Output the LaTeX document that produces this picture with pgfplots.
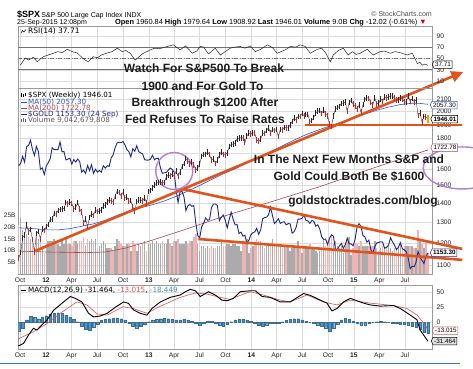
\documentclass[border=0pt]{standalone}
\usepackage{fontspec}
\setmainfont{Liberation Sans}
\newfontfamily\dejavu{DejaVu Sans}
\usepackage{pgfplots}
\pgfplotsset{compat=1.18}
\usepackage{pgfplotstable}
\usetikzlibrary{shapes.symbols,arrows.meta}

\definecolor{gridc}{HTML}{DCDCDC}
\definecolor{framec}{HTML}{9A9A9A}
\definecolor{candleup}{HTML}{262626}
\definecolor{candledn}{HTML}{D02020}
\definecolor{volgray}{HTML}{ABABAB}
\definecolor{volpink}{HTML}{F0B4B4}
\definecolor{ma50c}{HTML}{2F55C8}
\definecolor{ma200c}{HTML}{B0454A}
\definecolor{goldc}{HTML}{1C2A8C}
\definecolor{trendc}{HTML}{E2531C}
\definecolor{circc}{HTML}{B57EDC}
\definecolor{histc}{HTML}{4F93C4}
\definecolor{sigc}{HTML}{D9534F}
\definecolor{txtc}{HTML}{1E1E1E}
\definecolor{linkc}{HTML}{3A6FD8}

% S&P 500 weekly: week index (0 = week of 6 Jan 2012), close, down-week flag, volume (billions)
\pgfplotstableread{
w c d v
-14 1131 1 21
-13 1155 0 24
-12 1224 0 19
-11 1238 0 18
-10 1285 0 17
-9 1253 1 16
-8 1263 0 15
-7 1216 1 15
-6 1159 1 11
-5 1244 0 17
-4 1255 0 15
-3 1219 1 16
-2 1265 0 12
-1 1258 1 9
0 1278 0 13
1 1289 0 14
2 1315 0 14
3 1316 0 14
4 1345 0 15
5 1342 1 13
6 1361 0 13
7 1366 0 12
8 1370 0 14
9 1371 0 13
10 1404 0 15
11 1397 1 13
12 1408 0 13
13 1398 1 12
14 1370 1 14
15 1378 0 14
16 1403 0 13
17 1369 1 14
18 1353 1 14
19 1295 1 16
20 1318 0 12
21 1278 1 15
22 1325 0 14
23 1343 0 15
24 1335 1 14
25 1362 0 15
26 1355 1 10
27 1357 0 12
28 1363 0 13
29 1386 0 14
30 1391 0 13
31 1406 0 11
32 1418 0 11
33 1411 1 11
34 1407 1 10
35 1438 0 12
36 1466 0 15
37 1460 1 14
38 1441 1 13
39 1461 0 12
40 1428 1 12
41 1433 0 13
42 1411 1 13
43 1414 0 10
44 1380 1 14
45 1359 1 13
46 1409 0 10
47 1416 0 13
48 1418 0 12
49 1413 1 13
50 1430 0 14
51 1402 1 10
52 1466 0 13
53 1472 0 13
54 1486 0 14
55 1503 0 13
56 1513 0 14
57 1518 0 13
58 1520 0 13
59 1516 1 14
60 1518 0 13
61 1551 0 13
62 1561 0 15
63 1557 1 13
64 1569 0 12
65 1553 1 14
66 1588 0 14
67 1555 1 15
68 1582 0 13
69 1614 0 13
70 1633 0 13
71 1667 0 14
72 1650 1 13
73 1631 1 14
74 1643 0 14
75 1626 1 16
76 1593 1 17
77 1606 0 13
78 1632 0 10
79 1680 0 12
80 1692 0 12
81 1692 0 11
82 1710 0 12
83 1691 1 11
84 1656 1 12
85 1664 0 11
86 1633 1 11
87 1655 0 12
88 1688 0 12
89 1710 0 15
90 1692 1 12
91 1690 1 12
92 1703 0 13
93 1745 0 13
94 1760 0 12
95 1762 0 13
96 1771 0 13
97 1798 0 12
98 1804 0 12
99 1806 0 10
100 1805 1 13
101 1775 1 13
102 1818 0 15
103 1841 0 9
104 1831 1 11
105 1842 0 12
106 1838 1 13
107 1790 1 15
108 1783 1 14
109 1797 0 14
110 1838 0 12
111 1836 1 11
112 1859 0 12
113 1878 0 12
114 1841 1 13
115 1866 0 15
116 1858 1 13
117 1865 0 13
118 1815 1 13
119 1864 0 12
120 1863 1 11
121 1881 0 12
122 1878 1 12
123 1878 0 12
124 1900 0 10
125 1924 0 11
126 1949 0 11
127 1936 1 11
128 1963 0 14
129 1961 1 11
130 1985 0 9
131 1968 1 11
132 1978 0 11
133 1978 0 11
134 1925 1 13
135 1931 0 11
136 1955 0 11
137 1988 0 10
138 2003 0 9
139 2007 0 10
140 1985 1 11
141 2011 0 15
142 1982 1 12
143 1968 1 13
144 1906 1 16
145 1887 1 17
146 1965 0 13
147 2018 0 14
148 2032 0 12
149 2039 0 11
150 2064 0 12
151 2068 0 9
152 2075 0 12
153 2002 1 14
154 2071 0 16
155 2089 0 8
156 2058 1 11
157 2045 1 13
158 2019 1 13
159 2051 0 12
160 1995 1 14
161 2055 0 12
162 2097 0 12
163 2110 0 12
164 2105 1 12
165 2071 1 12
166 2053 1 12
167 2108 0 14
168 2061 1 11
169 2067 0 10
170 2102 0 11
171 2081 1 12
172 2117 0 11
173 2108 1 12
174 2116 0 12
175 2123 0 11
176 2126 0 10
177 2107 1 11
178 2092 1 11
179 2094 0 12
180 2110 0 13
181 2102 1 11
182 2077 1 12
183 2077 0 12
184 2127 0 12
185 2080 1 12
186 2104 0 12
187 2078 1 11
188 2092 0 11
189 1971 1 19
190 1989 0 15
191 1921 1 13
192 1961 0 11
193 1958 1 14
194 1946 1 9
}\spx

\pgfplotstableread{
w g
-14 1620
-13 1636
-12 1680
-11 1642
-10 1745
-9 1754
-8 1788
-7 1725
-6 1686
-5 1746
-4 1712
-3 1598
-2 1606
-1 1565
0 1617
1 1639
2 1665
3 1737
4 1725
5 1725
6 1725
7 1777
8 1710
9 1712
10 1657
11 1662
12 1668
13 1630
14 1659
15 1643
16 1663
17 1645
18 1580
19 1592
20 1572
21 1622
22 1590
23 1626
24 1572
25 1598
26 1580
27 1590
28 1580
29 1620
30 1605
31 1620
32 1616
33 1670
34 1690
35 1737
36 1770
37 1775
38 1772
39 1780
40 1757
41 1724
42 1711
43 1676
44 1731
45 1714
46 1751
47 1711
48 1703
49 1696
50 1658
51 1656
52 1656
53 1662
54 1687
55 1658
56 1667
57 1667
58 1609
59 1573
60 1576
61 1577
62 1592
63 1606
64 1596
65 1581
66 1476
67 1405
68 1462
69 1467
70 1435
71 1360
72 1386
73 1393
74 1383
75 1387
76 1297
77 1234
78 1223
79 1277
80 1295
81 1322
82 1310
83 1313
84 1376
85 1396
86 1396
87 1387
88 1308
89 1326
90 1337
91 1310
92 1272
93 1315
94 1352
95 1315
96 1287
97 1288
98 1244
99 1251
100 1232
101 1235
102 1197
103 1212
104 1238
105 1248
106 1252
107 1270
108 1240
109 1262
110 1318
111 1324
112 1326
113 1338
114 1379
115 1334
116 1294
117 1304
118 1318
119 1294
120 1301
121 1302
122 1287
123 1293
124 1292
125 1246
126 1253
127 1274
128 1316
129 1316
130 1320
131 1337
132 1310
133 1307
134 1294
135 1309
136 1305
137 1280
138 1287
139 1268
140 1229
141 1216
142 1218
143 1192
144 1222
145 1238
146 1231
147 1171
148 1169
149 1185
150 1197
151 1175
152 1191
153 1222
154 1195
155 1195
156 1186
157 1216
158 1277
159 1293
160 1279
161 1234
162 1228
163 1203
164 1213
165 1168
166 1153
167 1182
168 1199
169 1202
170 1205
171 1203
172 1175
173 1179
174 1189
175 1224
176 1205
177 1190
178 1169
179 1179
180 1201
181 1173
182 1168
183 1159
184 1132
185 1085
186 1095
187 1094
188 1113
189 1160
190 1134
191 1121
192 1107
193 1138
194 1153.3
}\gold

\pgfplotstableread{
w m
-14 1272
-6 1268
0 1262
6 1262
12 1268
18 1280
24 1292
30 1310
36 1335
42 1358
48 1375
54 1392
60 1412
66 1438
72 1468
78 1500
84 1535
90 1570
96 1600
102 1638
108 1675
114 1712
120 1750
126 1790
132 1828
138 1860
144 1890
150 1920
156 1950
162 1980
168 2010
174 2035
180 2055
186 2066
190 2064
194 2057.3
}\maf

\pgfplotstableread{
w m
-14 1162
0 1158
20 1155
30 1158
40 1175
51 1204
70 1262
93 1340
115 1410
139 1493
165 1600
194 1722.78
}\mat

\pgfplotstableread{
w r
-13.2 38
-12 44
-10.7 50.7
-9 47
-6.6 52
-4.6 44
-3 49
-1.5 53
1 56
3.6 59
6 62
8 60
10.7 66
13.2 62
15.8 59.5
18 52
19.8 47
21.4 44
23.9 53
26 51
28 56
31 59.5
33.5 62
36.1 68
38.6 62
40.5 64
42.7 59
45.2 47
47.5 54
49.3 59
52.9 65
55 68
57.5 67
59.5 69
61.5 71
64.6 74
66.5 69
68.1 65
70.7 72
72.5 66
74.2 59
76.5 63
78.3 71
80 70
82.4 58
84 62
85.9 68
88.5 56
91 62
93.5 68
96 70
98.6 71
101 68
103.7 72
106.3 62
109 66
112.4 74
115 69
117.4 59
120 63
122 66
124 71
127 70
129.1 74
131.7 71
134.2 59
137.8 66
140 68
142 60
144.4 44
145.9 56
148.5 64
151 68
153.5 56
155.6 62
157.5 57
159.6 59
161.5 63
163.2 66
166.2 56
169.8 62
172 63
174.9 59
177.5 62
180 60
183.5 56
186.1 59
188.6 41
190 43
191.2 38
192.5 40
194 37.71
}\rsi

\pgfplotstableread{
w m
-14.2 -39
-13.2 -38
-11.5 -35
-9.0 -21
-6.5 -10
-4.7 -13
-3.1 -7
0.4 4
3.7 20
8.8 34
12.2 43
14.7 40
18.1 34
21.5 15
24.0 9
27.5 10.5
30.9 15
35.1 25
39.3 34
41.8 31.6
44.4 20.5
47.8 15
51.2 12
53.7 23
58.0 34
63.0 41.6
68.1 45.5
70.7 51
73.2 55
75.8 52.6
78.3 43
82.5 51
85.9 45.5
89.3 37
91.9 36
95.2 40
98.6 51
103.7 52.6
106.3 52.6
109.7 43
113.9 41.6
119.0 34
124.0 34
130.8 48
134.2 45
139.3 37
142.7 32
145.2 19
147.8 23
151.1 34
154.6 40
157.1 37
161.3 32
164.7 29
169.8 27
176.6 28
180.0 23
185.1 12
188.5 4
190.1 -13
191.8 -21
194.0 -31.46
}\macd

\pgfplotstableread{
w s
-14.2 -28
-13.2 -26
-6.6 -16
0.4 -2
7.1 15
15.6 34
20.7 29
25.8 14
30.9 12
39.1 26
44.2 23
51.2 15
58.0 27
68.1 41.6
75.8 49
81.7 47
88.5 41.6
93.5 38
98.6 45
103.7 51
110.3 45.5
119.0 37
124.0 34
132.5 45.5
140.8 34
147.8 29
154.6 37
164.7 32
176.4 28
183.4 23
188.5 12
192.7 -4.6
194.0 -13.0
}\signal

\pgfplotstableread{
w h
-14 -14
-12 -10
-10 4
-8 10
-6 8
-4 6
-2 9
0 11
2 13
4 15
6 16
8 15
10 12
12 9
14 5
16 1
18 -7
20 -12
22 -13
24 -8
26 -3
28 3
30 5
32 6
34 7
36 7
38 6
40 4
42 -2
44 -7
46 -9
48 -6
50 -3
52 1
54 4
56 5
58 6
60 7
62 6
64 5
66 4
68 4
70 5
72 4
74 2
76 -2
78 -5
80 -2
82 2
84 2
86 -1
88 -5
90 -6
92 -3
94 1
96 4
98 5
100 5
102 4
104 2
106 -1
108 -5
110 -6
112 -4
114 -2
116 -1
118 -1
120 1
122 3
124 5
126 6
128 6
130 4
132 2
134 0
136 -2
138 -4
140 -6
142 -9
144 -15
146 -10
148 -3
150 4
152 7
154 5
156 2
158 -2
160 -4
162 -4
164 -2
166 0
168 1
170 2
172 1
174 0
176 -1
178 -2
180 -3
182 -3
184 -4
186 -6
188 -8
190 -12
192 -16
194 -18.4
}\hist

\pgfplotsset{
  basex/.style={scale only axis, width=414pt, xmin=-14.37, xmax=196.1, anchor=south west},
  framed/.style={basex,
    axis line style={draw=framec, line width=0.5pt},
    major tick length=0pt,
    tick label style={font=\fontsize{6.7}{7}\selectfont, text=black!85},
    /pgf/number format/assume math mode=true,
    xtick={-13.29,-0.14,12.86,25.86,39,52.14,65,78,91.14,104.29,117.14,130.14,143.29,156.43,169.29,182.29},
    xticklabels={Oct,\textbf{12},Apr,Jul,Oct,\textbf{13},Apr,Jul,Oct,\textbf{14},Apr,Jul,Oct,\textbf{15},Apr,Jul},
    xmajorgrids, major grid style={draw=gridc, line width=0.4pt},
    yticklabel pos=right,
    yticklabel style={xshift=1pt}},
}
\tikzset{
  vbox/.style={signal, signal to=west, signal pointer angle=130, draw=#1, line width=0.5pt,
    fill=white, inner xsep=1.2pt, inner ysep=0.7pt, font=\fontsize{6.3}{6.5}\selectfont,
    anchor=west, minimum height=7.5pt},
}

\begin{document}
\begin{tikzpicture}[font=\fontsize{7}{8}\selectfont]
\useasboundingbox (0pt,0pt) rectangle (473pt,368pt);
\fill[white] (0pt,0pt) rectangle (473pt,368pt);

% ---------- main panel: frame, grid, price ticks ----------
\begin{axis}[ymode=log, framed, ymin=1063, ymax=2192, at={(18pt,94pt)}, height=186pt,
  ytick={1100,1200,1300,1400,1500,1600,1700,1800,1900,2000,2100},
  yticklabels={1100,1200,1300,1400,1500,1600,{},1800,1900,2000,2100},
  ymajorgrids]
\addplot[draw=none] coordinates {(0,1500)};
\end{axis}

% ---------- volume ----------
\begin{axis}[basex, at={(18pt,94pt)}, height=186pt, ymin=0, ymax=79.7,
  axis line style={draw=none}, xtick=\empty, major tick length=0pt,
  ytick={5,10,15,20,25}, yticklabels={5B,10B,15B,20B,25B}, yticklabel pos=left,
  yticklabel style={xshift=1pt},
  tick label style={font=\fontsize{6.5}{7}\selectfont, text=black!85},
  /pgf/number format/assume math mode=true]
\addplot[ycomb, volgray, line width=1.5pt, restrict expr to domain={\thisrow{d}}{-0.5:0.5}] table[x=w,y=v]{\spx};
\addplot[ycomb, volpink, line width=1.5pt, restrict expr to domain={\thisrow{d}}{0.5:1.5}] table[x=w,y=v]{\spx};
\end{axis}

% ---------- price data ----------
\begin{axis}[ymode=log, basex, ymin=1063, ymax=2192, at={(18pt,94pt)}, height=186pt, hide axis, clip=false]
\addplot[ma200c, line width=0.6pt] table[x=w,y=m]{\mat};
\addplot[ma50c, line width=0.6pt] table[x=w,y=m]{\maf};
\addplot[goldc, line width=0.9pt] table[x=w,y=g]{\gold};
\addplot[candleup, line width=0.35pt] table[x=w,y=c]{\spx};
\addplot[only marks, mark=|, mark size=2.8pt, mark options={candleup, line width=0.9pt},
  restrict expr to domain={\thisrow{d}}{-0.5:0.5}] table[x=w,y=c]{\spx};
\addplot[only marks, mark=|, mark size=2.8pt, mark options={candledn, line width=0.9pt},
  restrict expr to domain={\thisrow{d}}{0.5:1.5}] table[x=w,y=c]{\spx};
\addplot[only marks, mark=|, mark size=4pt, mark options={draw=orange!80!yellow, line width=1.4pt}] coordinates {(194,1946.01)};
% trend lines
\addplot[trendc, line width=2.6pt, -{Triangle[length=12pt,width=11pt]}] coordinates {(-5.59,1162.8) (212,2333)};
\addplot[trendc, line width=2.6pt] coordinates {(69.1,1480) (211.5,1172)};
\addplot[trendc, line width=2.6pt] coordinates {(77.3,1218) (211.5,1123)};
\addplot[trendc, line width=2.4pt] coordinates {(131.7,1899) (211.5,1899)};
\draw[circc, line width=1.4pt] (axis cs:65.07,1587) circle[radius=18.5pt];
\draw[circc, line width=1.4pt] (axis cs:211.5,1606) ellipse[x radius=39pt, y radius=21pt];
\end{axis}

% ---------- RSI ----------
\begin{axis}[framed, at={(18pt,280pt)}, height=62pt, ymin=-2.3, ymax=107.2,
  xticklabels={}, ytick={10,30,50,70,90}, ymajorgrids]
\addplot[black!55, line width=0.6pt] coordinates {(-14.37,70) (196.1,70)};
\addplot[black!55, line width=0.6pt] coordinates {(-14.37,30) (196.1,30)};
\addplot[black!55, line width=0.5pt, dash pattern=on 4pt off 1.5pt on 1pt off 1.5pt] coordinates {(-14.37,50) (196.1,50)};
\addplot[black!85, line width=0.5pt] table[x=w,y=r]{\rsi};
\end{axis}

% ---------- MACD ----------
\begin{axis}[framed, at={(18pt,19pt)}, height=64pt, ymin=-44.5, ymax=62.2,
  ytick={0,25,50}, ymajorgrids]
\addplot[ybar, bar width=2.5pt, fill=histc, draw=histc!75!black, line width=0.2pt] table[x=w,y=h]{\hist};
\addplot[sigc, line width=0.6pt] table[x=w,y=s]{\signal};
\addplot[black, line width=0.9pt] table[x=w,y=m]{\macd};
\end{axis}

% ---------- texts and labels ----------
\begin{scope}[x=1pt,y=-1pt,yshift=368pt]
\node[anchor=base west, inner sep=0pt] at (17,17) {{\fontsize{9}{9}\selectfont\bfseries \$SPX}\,{\fontsize{7}{7}\selectfont S\&P 500 Large Cap Index INDX}};
\node[anchor=base west, inner sep=0pt] at (17,24.5) {25-Sep-2015 12:08pm};
\node[anchor=base west, inner sep=0pt, font=\fontsize{7.4}{8}\selectfont] at (115,24.5) {\textbf{Open} 1960.84 \textbf{High} 1979.64 \textbf{Low} 1908.92 \textbf{Last} 1946.01 \textbf{Volume} 9.0B \textbf{Chg} -12.02 (-0.61\%) {\color{red!80!black}▼}};
\node[anchor=base east, inner sep=0pt, text=black!70] at (432,16) {© StockCharts.com};

\node[anchor=base west, inner sep=0pt, font=\dejavu\fontsize{7.5}{8}\selectfont] at (28,33.5) {RSI(14) 37.71};
\draw[black, line width=0.5pt] (21,33) -- (22.5,30.5) -- (24,32) -- (26,29.5);

\begin{scope}[font=\dejavu\fontsize{7.2}{7}\selectfont]
\node[anchor=base west, inner sep=0pt] at (28,97.5) {\$SPX (Weekly) 1946.01};
\node[anchor=base west, inner sep=0pt, text=ma50c] at (28,104) {MA(50) 2057.30};
\node[anchor=base west, inner sep=0pt, text=ma200c] at (28,110.3) {MA(200) 1722.78};
\node[anchor=base west, inner sep=0pt, text=goldc] at (28,116.5) {\$GOLD 1153.30 (24 Sep)};
\node[anchor=base west, inner sep=0pt, text=black!65] at (28,122.5) {Volume 9,042,679,808};
\node[anchor=base west, inner sep=0pt] at (28,292.8) {MACD(12,26,9) -31.464, {\color{sigc}-13.015}, {\color{histc}-18.449}};
\end{scope}
\draw[black, line width=0.6pt] (21.5,96.5) -- (21.5,93) (23.5,97) -- (23.5,93.5) (25.5,96) -- (25.5,92.5);
\draw[ma50c, line width=0.8pt] (21,102) -- (26.5,102);
\draw[ma200c, line width=0.8pt] (21,108.3) -- (26.5,108.3);
\draw[goldc, line width=0.8pt] (21,114.5) -- (26.5,114.5);
\draw[black!60, line width=0.9pt] (21.5,121.5) -- (21.5,118.5) (23.5,121.5) -- (23.5,117.5) (25.5,121.5) -- (25.5,119);
\draw[black, line width=0.9pt] (20.5,290.5) -- (26,290.5);

% value boxes
\node[vbox=black] at (432,64.5) {37.71};
\node[vbox=ma50c] at (430,105) {2057.30};
\node[vbox=black, font=\fontsize{6.3}{6.5}\selectfont\bfseries] at (430.5,119) {1946.01};
\node[vbox=ma200c] at (430.5,147.5) {1722.78};
\node[vbox=goldc, font=\fontsize{6.3}{6.5}\selectfont\bfseries] at (430,252.7) {1153.30};
\node[vbox=sigc] at (432,330.5) {-13.015};
\node[vbox=black, fill=black!12] at (431,341) {-31.464};

% headline annotations
\begin{scope}[font=\fontsize{12}{12}\selectfont\bfseries, text=txtc]
\node[anchor=base, inner sep=0pt] at (204,72.3) {Watch For S\&P500 To Break};
\node[anchor=base, inner sep=0pt] at (202.5,90.3) {1900 and For Gold To};
\node[anchor=base, inner sep=0pt] at (205,106.3) {Breakthrough \$1200 After};
\node[anchor=base, inner sep=0pt] at (205,123.3) {Fed Refuses To Raise Rates};
\node[anchor=base, inner sep=0pt] at (349,163.3) {In The Next Few Months S\&P and};
\node[anchor=base, inner sep=0pt] at (349,180.3) {Gold Could Both Be \$1600};
\node[anchor=base, inner sep=0pt] at (363,204.5) {goldstocktrades.com/blog};
\end{scope}

\draw[linkc, line width=1pt] (0,363.5) -- (460,363.5);
\end{scope}
\end{tikzpicture}
\end{document}
